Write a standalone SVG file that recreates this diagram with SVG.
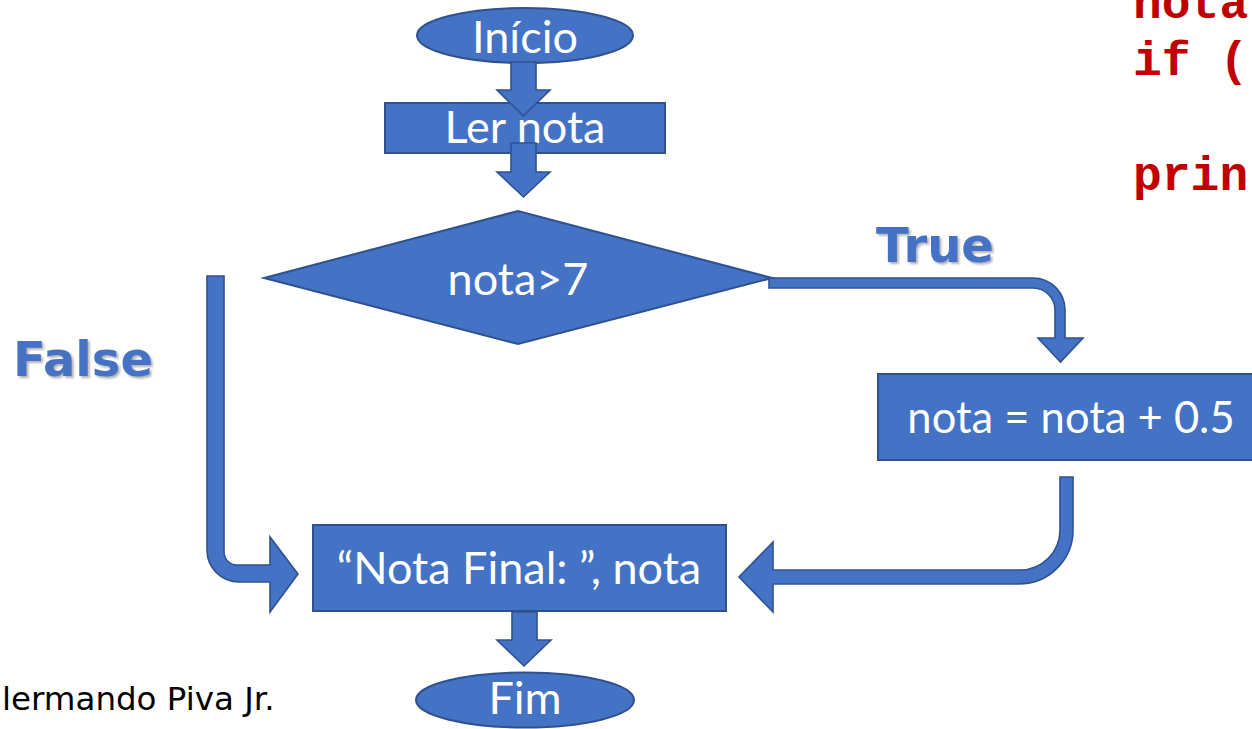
<svg xmlns="http://www.w3.org/2000/svg" width="1252" height="729" viewBox="0 0 1252 729">
  <defs>
    <filter id="soft-shadow" x="-10%" y="-20%" width="130%" height="150%">
      <feDropShadow dx="2" dy="2" stdDeviation="1.2" flood-color="#7f7f7f" flood-opacity="0.6"/>
    </filter>
  </defs>
  <style>
    .shape { fill: #4472C4; stroke: #2F528F; stroke-width: 2; stroke-linejoin: miter; }
    .flow { fill: #4472C4; stroke: #2F528F; stroke-width: 1.6; stroke-linejoin: miter; }
    .label { font-family: Lato, "Liberation Sans", sans-serif; font-size: 45px; fill: #ffffff; text-anchor: middle; }
    .label.tight { font-size: 43.5px; }
    .branch { font-family: "DejaVu Sans", Verdana, sans-serif; font-weight: bold; font-size: 48px; fill: #4472C4; filter: url(#soft-shadow); }
    .code { font-family: "Liberation Mono", "Courier New", monospace; font-weight: bold; font-size: 48px; fill: #C00000; }
    .credit { font-family: "DejaVu Sans", Tahoma, sans-serif; font-size: 32.5px; fill: #000000; }
  </style>

  <rect width="1252" height="729" fill="#ffffff"/>

  <!-- code listing, running off the right edge -->
  <g id="code">
    <text class="code" x="1133" y="18">nota</text>
    <text class="code" x="1133" y="75">if (</text>
    <text class="code" x="1133" y="190">prin</text>
  </g>

  <!-- branch labels -->
  <text class="branch" x="876" y="262">True</text>
  <text class="branch" x="13" y="376">False</text>

  <!-- credit line -->
  <text class="credit" x="2" y="710">lermando Piva Jr.</text>

  <!-- nodes -->
  <g id="inicio">
    <ellipse class="shape" cx="525" cy="35.5" rx="108" ry="27.5"/>
    <text class="label" x="525" y="53">Início</text>
  </g>
  <g id="ler-nota">
    <rect class="shape" x="385" y="103" width="280" height="50"/>
    <text class="label" x="525" y="143">Ler nota</text>
  </g>
  <g id="decisao">
    <polygon class="shape" points="264,278 518,211 772,278 518,344"/>
    <text class="label" x="518" y="295">nota&gt;7</text>
  </g>
  <g id="incremento">
    <rect class="shape" x="878" y="374" width="390" height="86"/>
    <text class="label tight" x="1071" y="433">nota = nota + 0.5</text>
  </g>
  <g id="saida">
    <rect class="shape" x="313" y="525" width="413" height="86"/>
    <text class="label" x="519" y="584">“Nota Final: ”, nota</text>
  </g>
  <g id="fim">
    <ellipse class="shape" cx="525" cy="700" rx="109" ry="27.5"/>
    <text class="label" x="525" y="714">Fim</text>
  </g>

  <!-- block-arrow connectors -->
  <g id="connectors">
    <!-- Início -> Ler nota -->
    <polygon class="flow" points="511,62 536,62 536,90 550,90 523.5,116 497,90 511,90"/>
    <!-- Ler nota -> decisão -->
    <polygon class="flow" points="511,143 536,143 536,172 550,172 523.5,197 497,172 511,172"/>
    <!-- True branch -->
    <path class="flow" d="M769,278 H1033 A32,32 0 0 1 1065,310 V338 H1083 L1060.5,362 L1038,338 H1055 V310 A22,22 0 0 0 1033,288 H769 Z"/>
    <!-- False branch -->
    <path class="flow" d="M207,276 H224 V552 A13,13 0 0 0 237,565 H270 V537 L298,574 L270,612 V582 H239 A32,32 0 0 1 207,550 Z"/>
    <!-- incremento -> saída -->
    <path class="flow" d="M1060,477 H1073 V530 A54,54 0 0 1 1019,584 H773 V612 L739,577 L773,542 V570 H1020 A40,40 0 0 0 1060,530 Z"/>
    <!-- saída -> Fim -->
    <polygon class="flow" points="512,612 537,612 537,640 551,640 524,666 497,640 512,640"/>
  </g>
</svg>
